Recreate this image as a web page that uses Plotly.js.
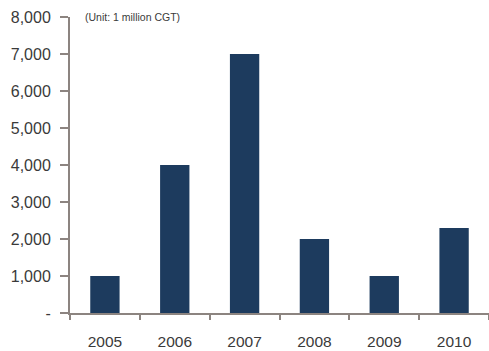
<!DOCTYPE html>
<html><head><meta charset="utf-8">
<script src="https://cdn.plot.ly/plotly-3.0.1.min.js"></script>
<style>html,body{margin:0;padding:0;background:#fff}</style>
</head><body><div id="c" style="width:489px;height:351px"></div>
<script>
var years = ['2005','2006','2007','2008','2009','2010'];
var values = [1000, 4000, 7000, 2000, 1000, 2300];
var yTickVals = [0,1000,2000,3000,4000,5000,6000,7000,8000];
var yTickText = ['-','1,000','2,000','3,000','4,000','5,000','6,000','7,000','8,000'];

Plotly.newPlot('c', [{
  type:'bar', x:years, y:values,
  marker:{color:'#1d3b5e'}, width:0.42, hoverinfo:'none'
}], {
  width:489, height:351,
  margin:{l:70, r:0, t:17, b:38},
  paper_bgcolor:'#fff', plot_bgcolor:'#fff',
  font:{family:'Liberation Sans, Arial, sans-serif', color:'#3a3a3a', size:15.5},
  showlegend:false,
  xaxis:{type:'category', range:[-0.5,5.5], showline:true, linecolor:'#8c8480', linewidth:2,
    ticks:'outside', tickson:'boundaries', ticklen:5, tickcolor:'#8c8480', tickwidth:2,
    showgrid:false, zeroline:false, ticklabelstandoff:13, tickfont:{size:15.5}},
  yaxis:{range:[0,8000], tickvals:yTickVals, ticktext:yTickText, showline:true,
    linecolor:'#8c8480', linewidth:2, ticks:'outside', ticklen:8, tickcolor:'#8c8480', tickwidth:2,
    showgrid:false, zeroline:false, ticklabelstandoff:6, tickfont:{size:16}},
  annotations:[{text:'(Unit: 1 million CGT)', xref:'paper', yref:'paper', x:0.03, y:1.0,
    xanchor:'left', yanchor:'middle', showarrow:false, font:{size:10.5, color:'#3a3a3a'}}]
}, {staticPlot:true});
</script></body></html>
